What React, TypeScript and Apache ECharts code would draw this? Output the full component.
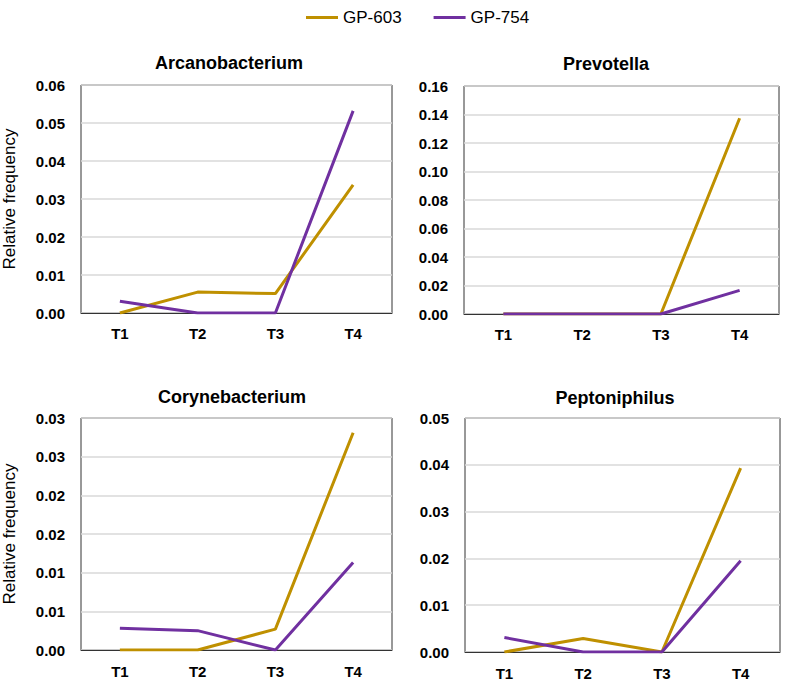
import React, { useEffect, useRef } from "react";
import * as echarts from "echarts";

const categories = ["T1", "T2", "T3", "T4"];
const seriesNames = ["GP-603", "GP-754"];
const colors = ["#BF9000", "#7030A0"];

const panelTitles = ["Arcanobacterium", "Prevotella", "Corynebacterium", "Peptoniphilus"];

const arcanoGP603 = [0, 0.0055, 0.0051, 0.0337];
const arcanoGP754 = [0.0031, 0, 0, 0.0532];
const prevoGP603 = [0, 0, 0, 0.1374];
const prevoGP754 = [0, 0, 0, 0.0166];
const coryneGP603 = [0, 0, 0.0027, 0.0281];
const coryneGP754 = [0.0028, 0.0025, 0, 0.0113];
const peptoGP603 = [0, 0.0029, 0, 0.0393];
const peptoGP754 = [0.0031, 0, 0, 0.0195];

const yMax = [0.06, 0.16, 0.03, 0.05];
const yInterval = [0.01, 0.02, 0.005, 0.01];

const panelData = [
  [arcanoGP603, arcanoGP754],
  [prevoGP603, prevoGP754],
  [coryneGP603, coryneGP754],
  [peptoGP603, peptoGP754],
];

const FONT = "'Liberation Sans', Arial, sans-serif";

export default function App() {
  const ref = useRef<HTMLDivElement>(null);
  useEffect(() => {
    if (!ref.current) return;
    const chart = echarts.init(ref.current, undefined, { renderer: "svg" });
    const grids = [
      { left: 78, top: 85, width: 314, height: 228 },
      { left: 464, top: 86, width: 315, height: 228 },
      { left: 78, top: 418, width: 314, height: 232 },
      { left: 465, top: 418, width: 315, height: 234 },
    ];
    const titlePos = [
      [229, 63],
      [606, 64],
      [232, 397],
      [615, 398],
    ];
    const fmt = (v: number) => (Math.round(v * 100 + 1e-6) / 100).toFixed(2);
    const series: any[] = [];
    panelData.forEach((pair, i) => {
      pair.forEach((vals, s) => {
        series.push({
          type: "line",
          name: seriesNames[s],
          xAxisIndex: i,
          yAxisIndex: i,
          data: vals,
          showSymbol: false,
          symbol: "none",
          lineStyle: { color: colors[s], width: 3 },
          itemStyle: { color: colors[s] },
          z: 3 + s,
        });
      });
    });
    chart.setOption({
      animation: false,
      backgroundColor: "#ffffff",
      legend: {
        top: 4,
        left: 301,
        data: seriesNames,
        icon: "rect",
        itemWidth: 32,
        itemHeight: 3,
        itemGap: 32,
        textStyle: { fontFamily: FONT, fontSize: 17, color: "#000" },
      },
      grid: grids.map((g) => ({
        ...g,
        show: true,
        borderColor: "#333",
        borderWidth: 1,
        backgroundColor: "transparent",
      })),
      xAxis: grids.map((_, i) => ({
        type: "category",
        gridIndex: i,
        data: categories,
        boundaryGap: true,
        axisTick: { show: false },
        axisLine: { show: true, lineStyle: { color: "#333", width: 1 } },
        axisLabel: {
          fontFamily: FONT,
          fontSize: 15,
          fontWeight: "bold",
          color: "#000",
          margin: i < 2 ? 13 : 14,
        },
        splitLine: { show: false },
      })),
      yAxis: grids.map((_, i) => ({
        type: "value",
        gridIndex: i,
        min: 0,
        max: yMax[i],
        interval: yInterval[i],
        name: i % 2 === 0 ? "Relative frequency" : "",
        nameLocation: "middle",
        nameRotate: 90,
        nameGap: 63,
        nameTextStyle: { fontFamily: FONT, fontSize: 17, color: "#000" },
        axisLine: { show: false },
        axisTick: { show: false },
        axisLabel: {
          fontFamily: FONT,
          fontSize: 15,
          fontWeight: "bold",
          color: "#000",
          margin: 16,
          formatter: fmt,
        },
        splitLine: { show: true, lineStyle: { color: "#d9d9d9", width: 1.5 } },
      })),
      graphic: panelTitles.map((t, i) => ({
        type: "text",
        x: titlePos[i][0],
        y: titlePos[i][1],
        style: {
          text: t,
          fontFamily: FONT,
          fontSize: 18,
          fontWeight: "bold",
          fill: "#000",
          textAlign: "center",
          textVerticalAlign: "middle",
        },
      })),
      series,
    });
    return () => chart.dispose();
  }, []);
  return (
    <div
      ref={ref}
      style={{ position: "fixed", left: 0, top: 0, width: 787, height: 683 }}
    />
  );
}
